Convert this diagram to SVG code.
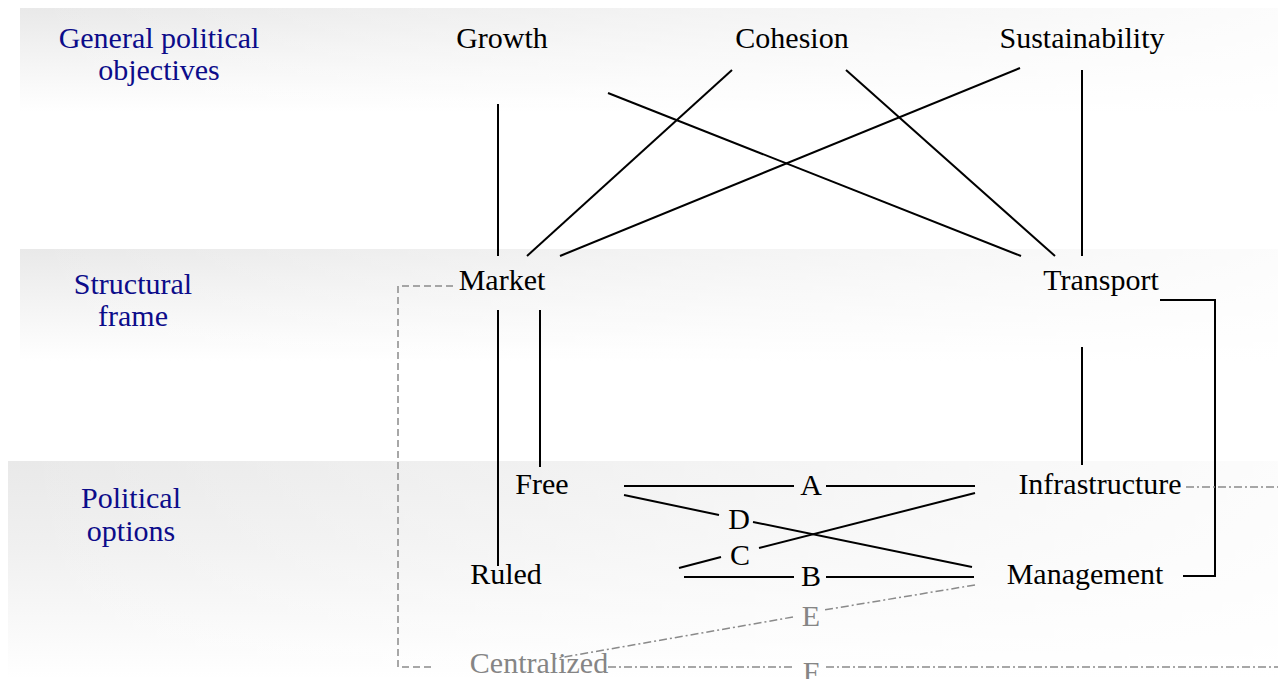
<svg xmlns="http://www.w3.org/2000/svg" width="1278" height="679" viewBox="0 0 1278 679">
<defs>
<linearGradient id="gv1" x1="0" y1="0" x2="0" y2="1">
<stop offset="0" stop-color="#e9e9e9"/><stop offset="0.45" stop-color="#f3f3f3"/><stop offset="1" stop-color="#ffffff"/>
</linearGradient>
<linearGradient id="gv3" x1="0" y1="0" x2="0" y2="1">
<stop offset="0" stop-color="#e9e9e9"/><stop offset="0.4" stop-color="#f0f0f0"/><stop offset="1" stop-color="#ffffff"/>
</linearGradient>
<linearGradient id="gh" x1="0" y1="0" x2="1" y2="0">
<stop offset="0" stop-color="#ffffff" stop-opacity="0"/><stop offset="1" stop-color="#ffffff" stop-opacity="0.85"/>
</linearGradient>
<style>
text{font-family:"Liberation Serif","Times New Roman",serif;font-size:30px;text-anchor:middle;fill:#000}
.lbl{fill:#0c0c8a}
.gray{fill:#858585}
.ln{stroke:#000;stroke-width:2;fill:none}
.dash{stroke:#8a8a8a;stroke-width:1.5;fill:none;stroke-dasharray:7 4}
.dd{stroke:#8a8a8a;stroke-width:1.5;fill:none;stroke-dasharray:8 3 2 3}
</style>
</defs>
<g id="bands">
<rect x="20" y="8" width="1258" height="104" fill="url(#gv1)"/>
<rect x="20" y="8" width="1258" height="104" fill="url(#gh)"/>
<rect x="20" y="249" width="1258" height="112" fill="url(#gv1)"/>
<rect x="20" y="249" width="1258" height="112" fill="url(#gh)"/>
<rect x="8" y="461" width="1270" height="218" fill="url(#gv3)"/>
<rect x="8" y="461" width="1270" height="218" fill="url(#gh)"/>
</g>
<g id="labels">
<text class="lbl" x="159" y="48">General political</text>
<text class="lbl" x="159" y="80">objectives</text>
<text class="lbl" x="133" y="294">Structural</text>
<text class="lbl" x="133" y="326">frame</text>
<text class="lbl" x="131" y="508">Political</text>
<text class="lbl" x="131" y="541">options</text>
</g>
<g id="connectors">
<line class="ln" x1="498" y1="104" x2="498" y2="256"/>
<line class="ln" x1="608" y1="93" x2="1021" y2="256"/>
<line class="ln" x1="732" y1="70" x2="527" y2="256"/>
<line class="ln" x1="846" y1="70" x2="1055" y2="256"/>
<line class="ln" x1="1020" y1="68" x2="560" y2="256"/>
<line class="ln" x1="1082" y1="70" x2="1082" y2="256"/>
<line class="ln" x1="498" y1="310" x2="498" y2="566"/>
<line class="ln" x1="540" y1="310" x2="540" y2="467"/>
<line class="ln" x1="1082" y1="347" x2="1082" y2="465"/>
<polyline class="ln" points="1160,300 1215,300 1215,576 1183,576"/>
<line class="ln" x1="624" y1="486" x2="794" y2="486"/>
<line class="ln" x1="826" y1="486" x2="975" y2="486"/>
<line class="ln" x1="624" y1="495" x2="719" y2="515"/>
<line class="ln" x1="753" y1="522" x2="972" y2="567"/>
<line class="ln" x1="975" y1="493" x2="759" y2="548"/>
<line class="ln" x1="721" y1="557" x2="679" y2="568"/>
<line class="ln" x1="684" y1="577" x2="794" y2="577"/>
<line class="ln" x1="826" y1="577" x2="974" y2="577"/>
<polyline class="dash" points="453,286 398,286 398,667 432,667"/>
<line class="dd" x1="975" y1="585" x2="824" y2="610"/>
<line class="dd" x1="793" y1="617" x2="553" y2="659"/>
<line class="dd" x1="608" y1="667" x2="794" y2="667"/>
<line class="dd" x1="826" y1="667" x2="1278" y2="667"/>
<line class="dd" x1="1186" y1="487" x2="1278" y2="487"/>
</g>
<g id="n-growth"><text x="502" y="48">Growth</text></g>
<g id="n-cohesion"><text x="792" y="48">Cohesion</text></g>
<g id="n-sustainability"><text x="1082" y="48">Sustainability</text></g>
<g id="n-market"><text x="502" y="290">Market</text></g>
<g id="n-transport"><text x="1101" y="290">Transport</text></g>
<g id="n-free"><text x="542" y="494">Free</text></g>
<g id="n-ruled"><text x="506" y="584">Ruled</text></g>
<g id="n-infrastructure"><text x="1100" y="494">Infrastructure</text></g>
<g id="n-management"><text x="1085" y="584">Management</text></g>
<g id="n-centralized"><text class="gray" x="539" y="673">Centralized</text></g>
<g id="edge-labels">
<text x="811" y="495">A</text>
<text x="811" y="586">B</text>
<text x="740" y="565">C</text>
<text x="739" y="529">D</text>
<text class="gray" x="811" y="626">E</text>
<text class="gray" x="811" y="682">F</text>
</g>
</svg>
